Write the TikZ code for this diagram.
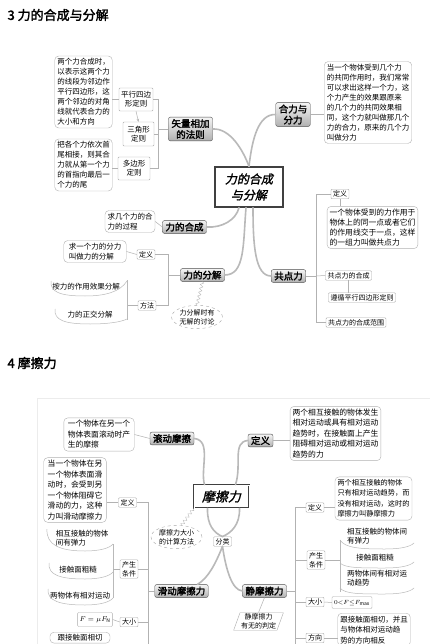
\documentclass[tikz,border=0pt]{standalone}
\usepackage{fontspec}
\setmainfont{Noto Sans CJK SC}
\newfontfamily\headfont[FakeBold=2]{Noto Sans CJK SC}
\newfontfamily\slantfont[FakeSlant=0.2,FakeBold=1.5]{Noto Sans CJK SC}
\usetikzlibrary{arrows.meta,shapes.geometric,decorations.pathmorphing}
\tikzset{
  topic/.style={rectangle,rounded corners=2pt,draw=gray!60!black,top color=gray!8,
    bottom color=gray!62,font=\headfont\fontsize{9.5}{11}\selectfont,align=center,
    inner xsep=3pt,inner ysep=2pt},
  core/.style={rectangle,draw=black!75,line width=1.3pt,fill=white,align=center},
  tag/.style={rectangle,rounded corners=1pt,draw=gray!65,fill=white,
    font=\fontsize{7}{9}\selectfont,align=center,inner xsep=2pt,inner ysep=1.5pt},
  note/.style={rectangle,rounded corners=4pt,draw=gray!60,fill=white,
    font=\fontsize{7.5}{10}\selectfont,align=left,inner sep=2.5pt},
  bubble/.style={ellipse,draw=gray!70,dashed,font=\fontsize{7}{9}\selectfont,
    align=center,inner sep=0.5pt},
  stk/.style={font=\fontsize{7.5}{9.5}\selectfont,align=left,inner sep=1pt},
  branch/.style={line width=1.6pt,draw=gray!55,line cap=round},
  link/.style={draw=gray!60,line width=0.5pt},
  band/.style={draw=gray!55,line width=0.5pt},
  zig/.style={draw=gray!55,decorate,decoration={zigzag,amplitude=1.5pt,segment length=4pt}}
}
\begin{document}
\begin{tikzpicture}[x=1pt,y=-1pt]
\fill[white] (0,0) rectangle (430,644);
\clip (0,0) rectangle (430,644);

% 3 -- composition and resolution of forces
\node[anchor=west,font=\headfont\fontsize{13}{14}\selectfont] (ttla) at (4,15) {3 力的合成与分解};

\node[note] (nta) at (83.5,92) {两个力合成时，\\以表示这两个力\\的线段为邻边作\\平行四边形，这\\两个邻边的对角\\线就代表合力的\\大小和方向};
\node[tag,minimum width=34pt,minimum height=23pt,font=\fontsize{7.5}{9}\selectfont] (pxbx) at (136,99.5) {平行四边\\形定则};
\node[tag,minimum width=31pt,minimum height=24pt,font=\fontsize{7.5}{9}\selectfont] (sjbx) at (138.5,134) {三角形\\定则};
\node[tag,minimum width=32pt,minimum height=23pt,font=\fontsize{7.5}{9}\selectfont] (dbbx) at (134,168.5) {多边形\\定则};
\node[note] (ntb) at (83.5,165) {把各个力依次首\\尾相接，则其合\\力就从第一个力\\的首指向最后一\\个力的尾};
\node[topic] (rule) at (190.5,129) {矢量相加\\的法则};
\coordinate (rbar) at (158,129);

\node[core,font=\slantfont\fontsize{12}{16}\selectfont,minimum width=68pt,minimum height=40pt] (core1) at (249,187) {力的合成\\与分解};

\node[topic] (hlfl) at (293,114.5) {合力与\\分力};
\node[note] (ntc) at (368,102.5) {当一个物体受到几个力\\的共同作用时，我们常常\\可以求出这样一个力，这\\个力产生的效果跟原来\\的几个力的共同效果相\\同，这个力就叫做那几个\\力的合力，原来的几个力\\叫做分力};

\node[topic] (hc) at (184.5,227) {力的合成};
\node[note] (ntd) at (130,221.5) {求几个力的合\\力的过程};

\node[topic] (hf) at (202.5,275) {力的分解};
\node[tag] (dya) at (146,254.5) {定义};
\node[tag] (ffa) at (147,305.5) {方法};
\coordinate (fbar) at (168,275);
\node[note,inner xsep=5pt] (nte) at (95,251.5) {求一个力的分力\\叫做力的分解};
\node[stk] (mfa) at (86,287) {按力的作用效果分解};
\node[stk] (mfb) at (90,315) {力的正交分解};
\coordinate (mbar) at (127,305.5);
\node[bubble] (fjt) at (197,317) {力分解时有\\无解的讨论};

\node[topic] (gdl) at (288.5,276) {共点力};
\coordinate (gbar) at (316,276);
\node[tag] (dyb) at (340,194) {定义};
\node[note,font=\fontsize{7.8}{10}\selectfont] (ntf) at (372.5,227.5) {一个物体受到的力作用于\\物体上的同一点或者它们\\的作用线交于一点，这样\\的一组力叫做共点力};
\node[tag] (hcb) at (348.5,275.5) {共点力的合成};
\node[tag] (zxb) at (362,297.5) {遵循平行四边形定则};
\node[tag] (fwb) at (356,322.5) {共点力的合成范围};

% organic branches round the first centre
\draw[branch] (rule.east) .. controls (230,128) and (243,150) .. (core1.north);
\draw[branch] (core1.north) .. controls (252,140) and (258,114) .. (hlfl.west);
\draw[branch] (hc.east) .. controls (222,228) and (236,220) .. ([xshift=-10pt]core1.south);
\draw[branch] ([xshift=-3pt]core1.south) .. controls (243,245) and (245,275) .. (hf.east);
\draw[branch] ([xshift=4pt]core1.south) .. controls (253,245) and (255,276) .. (gdl.west);

\draw[link] (pxbx.west) -- (pxbx.west -| nta.east);
\draw[link] (dbbx.west) -- (dbbx.west -| ntb.east);
\draw[link,-{Stealth[length=3pt,width=2.5pt]}] (pxbx.south) -- (sjbx.north);
\draw[link] (pxbx.east) -- (pxbx.east -| rbar) -- (dbbx.east -| rbar) -- (dbbx.east);
\draw[link] (sjbx.east) -- (sjbx.east -| rbar);
\draw[link] (rbar) -- (rule.west);
\draw[link] (hlfl.east) -- (ntc.west |- hlfl.east);
\draw[link] (ntd.east) -- (hc.west);
\draw[link] (nte.east) -- (dya.west);
\draw[link] (dya.east) -- (dya.east -| fbar) -- (ffa.east -| fbar) -- (ffa.east);
\draw[link] (fbar) -- (hf.west);
\draw[link] (ffa.west) -- (mbar);
\draw[band] (127,280) -- (127,320);
\draw[band] (51,281) .. controls (50,292) and (60,296) .. (85,296) .. controls (105,296) and (120,292) .. (127,281);
\draw[band] (55,309) .. controls (54,320) and (64,324) .. (90,324) .. controls (108,324) and (121,322) .. (127,319);
\draw[zig] (fjt.north) -- (hf.south);
\draw[link] (gdl.east) -- (gbar);
\draw[link] (dyb.west) -- (dyb.west -| gbar) -- (fwb.west -| gbar) -- (fwb.west);
\draw[link] (gbar) -- (hcb.west);
\draw[link] (dyb.south) -- (dyb.south |- ntf.north);
\draw[link] (hcb.south) -- (hcb.south |- zxb.north);

% 4 -- friction
\node[anchor=west,font=\headfont\fontsize{13}{14}\selectfont] (ttlb) at (4,363) {4 摩擦力};
\draw[gray!15] (37,398) rectangle (440,660);

\node[topic] (gdm) at (172,438.5) {滚动摩擦};
\node[note,font=\fontsize{7.8}{10.5}\selectfont,inner xsep=4pt] (ntg) at (99,434.5) {一个物体在另一个\\物体表面滚动时产\\生的摩擦};
\node[topic] (dyc) at (260.5,440.5) {定义};
\node[note,font=\fontsize{7.8}{10.5}\selectfont] (nth) at (335.5,433.5) {两个相互接触的物体发生\\相对运动或具有相对运动\\趋势时，在接触面上产生\\阻碍相对运动或相对运动\\趋势的力};

\node[core,double=white,double distance=1pt,line width=0.9pt,font=\slantfont\fontsize{13}{15}\selectfont,
  minimum width=55pt,minimum height=23pt] (core2) at (221.5,496.5) {摩擦力};
\node[bubble] (jsf) at (176.5,537) {摩擦力大小\\的计算方法};
\node[tag] (flb) at (222.5,541.5) {分类};
\node[topic] (hdm) at (181.5,591) {滑动摩擦力};
\node[topic] (jmc) at (264.5,591) {静摩擦力};
\node[trapezium,trapezium left angle=70,trapezium right angle=110,draw=gray!65,fill=white,
  font=\fontsize{7}{9}\selectfont,align=center,inner sep=1pt] (pdd) at (258.5,621.5) {静摩擦力\\有无的判定};

% sliding friction
\coordinate (hbar) at (148,591);
\coordinate (hbot) at (148,660);
\node[tag] (dyd) at (127.5,502.5) {定义};
\node[note,font=\fontsize{7.8}{10.5}\selectfont,inner xsep=4pt] (nti) at (75,490) {当一个物体在另\\一个物体表面滑\\动时，会受到另\\一个物体阻碍它\\滑动的力，这种\\力叫滑动摩擦力};
\node[tag] (tja) at (129,569) {产生\\条件};
\node[stk] (ska) at (82,538) {相互接触的物体\\间有弹力};
\node[stk] (skb) at (78,570) {接触面粗糙};
\node[stk] (skc) at (80,596) {两物体有相对运动};
\node[tag] (dxa) at (129,622) {大小};
\node[tag,minimum width=34pt,minimum height=14pt] (gsa) at (95,619.5) {$F=\mu F_{\mathrm N}$};
\node[note,anchor=north,minimum width=60pt,inner ysep=2pt] (ntl) at (80,632) {跟接触面相切};

% static friction
\coordinate (jbar) at (295,591);
\coordinate (jbot) at (295,660);
\node[tag] (dye) at (315,507.5) {定义};
\node[note,font=\fontsize{7.2}{10.5}\selectfont] (ntj) at (373.5,498.5) {两个相互接触的物体\\只有相对运动趋势，而\\没有相对运动，这时的\\摩擦力叫静摩擦力};
\node[tag] (tjb) at (316,560) {产生\\条件};
\node[stk] (skd) at (377,536) {相互接触的物体间\\有弹力};
\node[stk] (ske) at (375,558) {接触面粗糙};
\node[stk] (skf) at (377,578) {两物体间有相对运\\动趋势};
\node[tag] (dxb) at (315,602) {大小};
\node[tag,minimum height=12pt,font=\fontsize{6}{7}\selectfont] (gsb) at (352,602.5) {$0{<}F{\leq}F_{\max}$};
\node[tag] (fxb) at (315,638) {方向};
\node[note,anchor=north,font=\fontsize{7.5}{10.5}\selectfont] (ntk) at (374,613) {跟接触面相切，并且\\与物体相对运动趋\\势的方向相反};

% organic branches round the second centre
\draw[branch] (gdm.east) .. controls (212,440) and (200,470) .. ([xshift=-17pt]core2.north);
\draw[branch] (dyc.west) .. controls (232,442) and (242,465) .. ([xshift=14pt]core2.north);
\draw[branch] ([xshift=-14pt]core2.south) .. controls (207,525) and (214,533) .. (flb.north);
\draw[branch] ([xshift=18pt]core2.south) .. controls (240,525) and (231,533) .. (flb.north);
\draw[branch] (flb.south) .. controls (215,565) and (208,578) .. ([xshift=16pt]hdm.north);
\draw[branch] (flb.south) .. controls (226,570) and (232,590) .. (jmc.west);

\draw[link] (ntg.east) -- (gdm.west);
\draw[link] (dyc.east) -- (nth.west |- dyc.east);
\draw[zig] ([xshift=5pt]jsf.north) -- (core2.south west);
\draw[link] (jmc.south) -- (pdd.north);

\draw[link] (hdm.west) -- (hbar);
\draw[link] (dyd.east) -- (dyd.east -| hbar) -- (hbot);
\draw[link] (tja.east) -- (tja.east -| hbar);
\draw[link] (dxa.east) -- (dxa.east -| hbar);
\draw[link] (dyd.west) -- (dyd.west -| nti.east);
\draw[link] (dxa.west) -- (gsa.east);
\draw[band] (113,544) -- (113,598);
\draw[link] (tja.west) -- (113,569);
\draw[band] (47,529) .. controls (46,545) and (60,551) .. (85,551) .. controls (100,551) and (110,548) .. (113,544);
\draw[band] (49,563) .. controls (48,575) and (60,579) .. (85,579) .. controls (100,579) and (110,576) .. (113,572);
\draw[band] (48,589) .. controls (47,601) and (60,605) .. (85,605) .. controls (100,605) and (110,602) .. (113,598);

\draw[link] (jmc.east) -- (jbar);
\draw[link] (dye.west) -- (dye.west -| jbar) -- (jbot);
\draw[link] (tjb.west) -- (tjb.west -| jbar);
\draw[link] (dxb.west) -- (dxb.west -| jbar);
\draw[link] (fxb.west) -- (fxb.west -| jbar);
\draw[link] (dye.east) -- (ntj.west |- dye.east);
\draw[link] (dxb.east) -- (gsb.west);
\draw[link] (fxb.east) -- (ntk.west |- fxb.east);
\draw[band] (340,540) -- (340,592);
\draw[link] (tjb.east) -- (340,560);
\draw[band] (340,540) .. controls (345,548) and (360,549) .. (385,549) .. controls (400,549) and (410,547) .. (414,543);
\draw[band] (340,563) .. controls (345,568) and (360,568) .. (385,568) .. controls (400,568) and (410,566) .. (414,562);
\draw[band] (340,588) .. controls (345,594) and (360,594) .. (385,594) .. controls (400,594) and (410,592) .. (414,588);
\end{tikzpicture}
\end{document}
